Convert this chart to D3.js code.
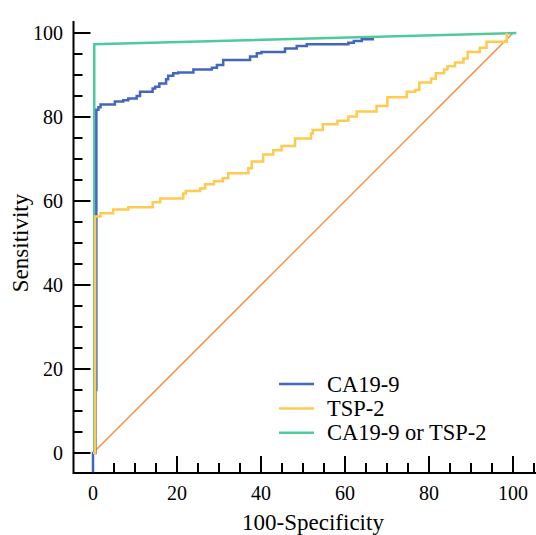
<!DOCTYPE html>
<html lang="en">
<head>
    <meta charset="UTF-8">
    <title>ROC</title>
    <style>
        body { margin: 0; background: #fff; }
    </style>
</head>
<body>
<script src="https://d3js.org/d3.v7.min.js"></script>
<script>
    let width = 536;
    let height = 535;
    let font = "'Liberation Serif', 'Times New Roman', 'DejaVu Serif', serif";

    // 100-Specificity / Sensitivity pairs
    let caX = [0, 0, 0.6, 0.8, 1.3, 1.8, 5.2, 7.2, 8.4, 10.4, 11.2, 14.2, 14.8, 15.8, 17.4, 17.9, 19.1, 20.3, 23.9, 28.3, 29.5, 31.0, 37.4, 39.0, 40.1, 45.7, 48.5, 50.9, 60.8, 62.1, 64.0, 66.9];
    let caY = [-4.6, 0, 15, 81.7, 82.3, 83.0, 83.7, 84.0, 84.4, 85.0, 86.0, 86.8, 87.2, 88.0, 89.0, 89.8, 90.4, 90.6, 91.3, 91.7, 92.4, 93.6, 94.4, 95.2, 95.5, 96.3, 96.9, 97.3, 97.7, 98.1, 98.5, 98.5];
    let tspX = [0, 0.5, 1.8, 4.8, 8.4, 14.2, 16.0, 21.5, 22.1, 25.5, 26.7, 28.8, 30.9, 32.2, 37.0, 37.8, 40.5, 42.9, 44.9, 48.1, 51.9, 52.3, 54.7, 58.2, 60.8, 62.8, 67.5, 70.1, 74.7, 76.7, 77.7, 80.5, 81.6, 83.6, 84.4, 86.2, 88.2, 89.2, 92.1, 93.7, 98.5];
    let tspY = [0, 56.3, 57.1, 58.0, 58.5, 59.7, 60.6, 61.8, 62.4, 63.0, 64.0, 64.7, 65.4, 66.6, 67.8, 69.4, 71.1, 72.1, 73.1, 74.9, 76.1, 76.9, 78.3, 79.1, 80.1, 81.3, 82.6, 84.7, 86.0, 86.4, 88.2, 89.1, 90.4, 91.3, 92.1, 93.0, 93.9, 95.5, 96.5, 97.9, 100];
    let combX = [0.3, 0.3, 100.8];
    let combY = [0, 97.3, 100];
    let diagX = [0, 100];
    let diagY = [0, 100];

    let xTicks = d3.range(0, 106, 5);
    let yTicks = d3.range(0, 101, 5);
    let legendNames = ['CA19-9', 'TSP-2', 'CA19-9 or TSP-2'];
    let colors = ['#4466c0', '#ffca50', '#4fca9b'];

    let xScale = d3.scaleLinear().domain([0, 100]).range([93, 513]);
    let yScale = d3.scaleLinear().domain([0, 100]).range([453, 33]);

    let svg = d3.select('body')
        .append('svg')
        .attr('width', width)
        .attr('height', height)
        .attr('font-family', font);

    let zip = (xs, ys) => xs.map((x, i) => [x, ys[i]]);

    let lineStep = d3.line()
        .x(d => xScale(d[0]))
        .y(d => yScale(d[1]))
        .curve(d3.curveStepAfter);
    let lineStraight = d3.line()
        .x(d => xScale(d[0]))
        .y(d => yScale(d[1]));

    // axes
    let axisX0 = 73.5;
    let axisY0 = 473;
    svg.append('line')
        .attr('x1', axisX0).attr('x2', width)
        .attr('y1', axisY0).attr('y2', axisY0)
        .attr('stroke', '#000').attr('stroke-width', 2);
    svg.append('line')
        .attr('x1', axisX0).attr('x2', axisX0)
        .attr('y1', 21).attr('y2', axisY0 + 1)
        .attr('stroke', '#000').attr('stroke-width', 2);

    svg.selectAll('.xtick').data(xTicks).enter()
        .append('line')
        .attr('x1', d => xScale(d)).attr('x2', d => xScale(d))
        .attr('y1', axisY0)
        .attr('y2', d => d % 20 === 0 ? axisY0 - 17 : axisY0 - 10)
        .attr('stroke', '#000').attr('stroke-width', 2);
    svg.selectAll('.ytick').data(yTicks).enter()
        .append('line')
        .attr('y1', d => yScale(d)).attr('y2', d => yScale(d))
        .attr('x1', axisX0)
        .attr('x2', d => d % 20 === 0 ? axisX0 + 17 : axisX0 + 9)
        .attr('stroke', '#000').attr('stroke-width', 2);

    svg.selectAll('.xlab').data(xTicks.filter(d => d % 20 === 0)).enter()
        .append('text')
        .attr('x', d => xScale(d))
        .attr('y', 500)
        .attr('text-anchor', 'middle')
        .attr('font-family', font)
        .attr('font-size', 20)
        .text(d => d);
    svg.selectAll('.ylab').data(yTicks.filter(d => d % 20 === 0)).enter()
        .append('text')
        .attr('x', 63)
        .attr('y', d => yScale(d) + 7)
        .attr('text-anchor', 'end')
        .attr('font-family', font)
        .attr('font-size', 20)
        .text(d => d);

    svg.append('text')
        .attr('x', 313).attr('y', 530)
        .attr('text-anchor', 'middle')
        .attr('font-family', font)
        .attr('font-size', 23)
        .text('100-Specificity');
    svg.append('text')
        .attr('transform', 'translate(28,243) rotate(-90)')
        .attr('text-anchor', 'middle')
        .attr('font-family', font)
        .attr('font-size', 23)
        .text('Sensitivity');

    // curves
    svg.append('path')
        .attr('d', lineStraight(zip(diagX, diagY)))
        .attr('fill', 'none').attr('stroke', '#f5873f').attr('stroke-width', 1.3);
    svg.append('path')
        .attr('d', lineStraight(zip(combX, combY)))
        .attr('fill', 'none').attr('stroke', colors[2]).attr('stroke-width', 2.5);
    svg.append('path')
        .attr('d', lineStep(zip(caX, caY)))
        .attr('fill', 'none').attr('stroke', colors[0]).attr('stroke-width', 2.5);
    svg.append('path')
        .attr('d', lineStep(zip(tspX, tspY)))
        .attr('fill', 'none').attr('stroke', colors[1]).attr('stroke-width', 2.5);

    // legend
    let legend = svg.selectAll('.leg').data(legendNames).enter()
        .append('g')
        .attr('transform', (d, i) => 'translate(279,' + (384 + i * 24.4) + ')');
    legend.append('line')
        .attr('x1', 0).attr('x2', 35)
        .attr('stroke', (d, i) => colors[i]).attr('stroke-width', 2.5);
    legend.append('text')
        .attr('x', 48).attr('y', 7.5)
        .attr('font-family', font)
        .attr('font-size', 22.5)
        .text(d => d);
</script>
</body>
</html>
